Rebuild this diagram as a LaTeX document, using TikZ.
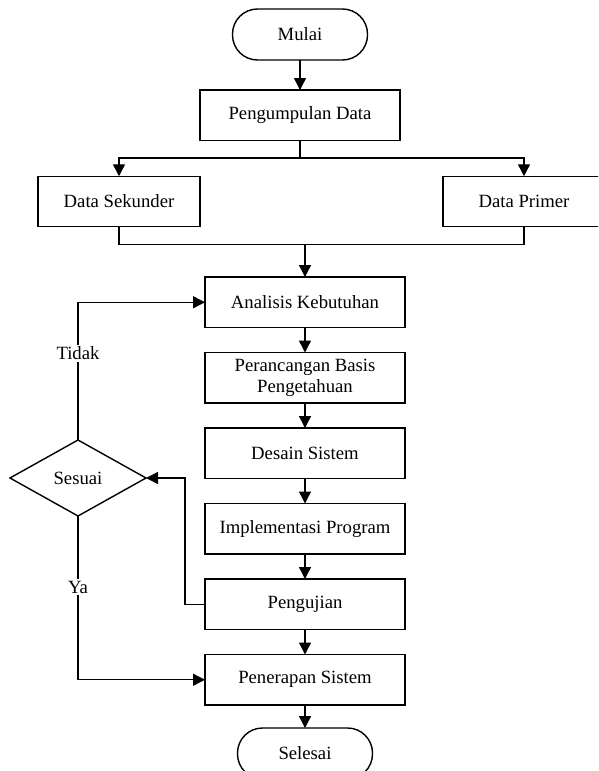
\documentclass[tikz,border=0pt]{standalone}
\usepackage{fontspec}
\setmainfont{Liberation Serif}
\usepackage{tikz}
\usetikzlibrary{arrows.meta,positioning,shapes.geometric}

\begin{document}
\begin{tikzpicture}[
    x=1pt, y=1pt, >={Triangle[length=12pt,width=12pt]},
    font=\fontsize{18.7}{21}\selectfont, node distance=25pt,
    line width=1.4pt,
    proc/.style={rectangle, draw, align=center, outer sep=0pt,
                 minimum height=50.5pt, minimum width=200pt},
    term/.style={rectangle, draw, rounded corners=25pt, outer sep=0pt,
                 minimum height=51pt, minimum width=135pt},
    cek/.style={diamond, draw, outer sep=0pt, inner sep=0pt, aspect=1.8,
                minimum width=136pt, minimum height=76pt},
    arr/.style={->},
    lbl/.style={fill=white, inner sep=2pt}
]
\clip[use as bounding box] (0,0) rectangle (598,-771);

% Top: start and data collection
\node[term] (mulai) at (300,-34.5) {Mulai};
\node[proc, below=30pt of mulai] (kumpul) {Pengumpulan Data};
\node[proc, minimum width=162pt] (sekunder) at (119,-201.5) {Data Sekunder};
\node[proc, minimum width=162pt] (primer)   at (524,-201.5) {Data Primer};

% Main column
\node[proc] (analisis) at (305,-302.25) {Analisis Kebutuhan};
\node[proc, below=of analisis]   (rancang) {Perancangan Basis\\Pengetahuan};
\node[proc, below=of rancang]    (desain)  {Desain Sistem};
\node[proc, below=of desain]     (impl)    {Implementasi Program};
\node[proc, below=of impl]       (uji)     {Pengujian};
\node[proc, below=of uji]        (terap)   {Penerapan Sistem};
\node[term, below=23pt of terap] (selesai) {Selesai};

% Decision
\node[cek] (sesuai) at (78,-478) {Sesuai};

% Split and merge of the data sources
\coordinate (pisah) at (300,-158);
\coordinate (gabung) at (305,-244.5);
\draw (mulai) edge[arr] (kumpul);
\draw (kumpul.south) -- (pisah);
\draw[arr] (pisah) -| (sekunder.north);
\draw[arr] (pisah) -| (primer.north);
\draw (sekunder.south) |- (gabung) -| (primer.south);
\draw[arr] (gabung) -- (analisis);

% Forward arrows
\draw[arr] (analisis) -- (rancang);
\draw[arr] (rancang)  -- (desain);
\draw[arr] (desain)   -- (impl);
\draw[arr] (impl)     -- (uji);
\draw[arr] (uji)      -- (terap);
\draw[arr] (terap)    -- (selesai);

% Test result goes to the decision
\draw[arr] (uji.west) -- ++(-20,0) |- (sesuai.east);

% Decision outcomes
\draw[arr] (sesuai.north) |- (analisis.west)
           node[lbl, pos=0.315] {Tidak};
\draw[arr] (sesuai.south) |- (terap.west)
           node[lbl, pos=0.217] {Ya};
\end{tikzpicture}
\end{document}
